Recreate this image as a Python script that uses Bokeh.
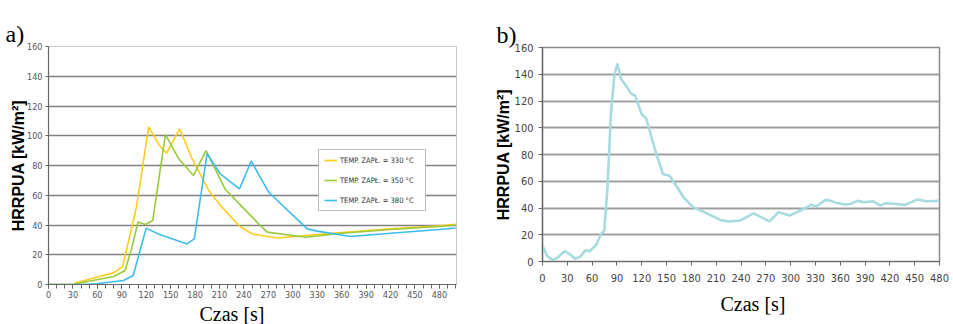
from bokeh.plotting import figure
from bokeh.layouts import row, column
from bokeh.models import Legend, LegendItem, Title, SingleIntervalTicker, Range1d
from bokeh.embed import file_html
from bokeh.resources import INLINE

# ---- data: chart a) ----
t_330 = [0, 30, 35, 60, 80, 91, 108, 123, 137, 145, 161, 176, 197, 213, 234, 250, 281, 330, 360, 420, 480, 500]
v_330 = [0, 0, 1.3, 5, 7.8, 12, 52, 106, 92.8, 88.3, 104.7, 85, 63, 52, 39.5, 34, 31.3, 33.5, 35, 37.5, 39.5, 40.5]
t_350 = [0, 30, 43, 80, 94, 102.5, 110, 119, 128, 143.5, 160, 178, 193.5, 217, 240, 260, 268.5, 316, 360, 420, 480, 500]
v_350 = [0, 0, 1.5, 5.4, 9.4, 25, 42, 40.3, 43, 100.8, 84.5, 73.3, 90, 64, 51, 39.7, 35.2, 31.8, 34.5, 37, 39, 40]
t_380 = [0, 40, 59.5, 92, 104, 120, 135, 170, 179, 194.7, 211, 234.5, 249, 260, 270.5, 317.7, 330, 371, 420, 480, 500]
v_380 = [0, 0, 0.5, 2.7, 6, 37.9, 34, 27.3, 30.7, 87.9, 74.4, 64.3, 83, 72, 62, 37.4, 35.9, 32.3, 34.5, 37, 38]
labels_a = ["TEMP. ZAPŁ. = 330 °C", "TEMP. ZAPŁ. = 350 °C", "TEMP. ZAPŁ. = 380 °C"]

# ---- data: chart b) ----
t_b = [0.5, 5.3, 11.4, 16.6, 26.6, 32.6, 39.5, 45.6, 52.5, 56.5, 65, 71, 74.6, 78.6, 82.7, 87, 90.7,
       95, 101, 106.9, 112, 120, 125.4, 136.3, 145.6, 153.6, 159, 170.5, 182.5, 198.7, 214.8, 224.9,
       239, 255, 274.4, 285.3, 298.6, 307.5, 317.6, 324.8, 330.9, 341.8, 347.8, 355.9, 366, 372,
       382, 388, 400, 408.5, 414.5, 428.6, 438.6, 452.7, 464.8, 480]
v_b = [11.2, 4.5, 1.3, 2, 7.7, 5.7, 2, 3.7, 8.7, 7.5, 12.5, 20.7, 22.6, 55.5, 110, 140, 148,
       136.5, 131.5, 125.7, 124, 110, 107, 83, 65.5, 64.2, 59.2, 48, 40.5, 36, 31.1, 29.9,
       30.6, 36, 30, 36.8, 34.4, 36.8, 39.8, 42.6, 41, 46, 45.5, 43.8, 42.6, 43,
       45.5, 44.3, 45, 41.8, 43.5, 43, 42.3, 46.3, 45, 45.3]

NARROW = "'Liberation Sans Narrow', 'DejaVu Sans Condensed', 'Liberation Sans', sans-serif"


def style(p, tick_size, tick_color, grid_color, grid_w):
    p.xgrid.grid_line_color = None
    p.ygrid.grid_line_color = grid_color
    p.ygrid.grid_line_width = grid_w
    for ax in (p.xaxis[0], p.yaxis[0]):
        ax.major_label_text_font = NARROW
        ax.major_label_text_font_size = tick_size
        ax.major_label_text_color = tick_color
        ax.axis_line_color = "#666666"
        ax.axis_line_width = 1.2
        ax.major_tick_line_color = "#666666"
        ax.minor_tick_line_color = "#666666"
        ax.major_tick_in = 0
        ax.minor_tick_in = 0
    p.yaxis.axis_label = "HRRPUA [kW/m²]"
    p.yaxis.axis_label_text_font = "Liberation Sans"
    p.yaxis.axis_label_text_font_style = "bold"
    p.yaxis.axis_label_text_font_size = "16px"
    p.yaxis.axis_label_text_color = "black"


def add_titles(p, panel_text, panel_offset, x_offset, x_standoff):
    p.title.text = panel_text
    p.title.align = "left"
    p.title.offset = panel_offset
    p.title.standoff = 0
    p.title.text_font = "Liberation Serif"
    p.title.text_font_style = "normal"
    p.title.text_font_size = "24px"
    p.title.text_color = "black"
    xt = Title(text="Czas [s]")
    xt.align = "left"
    xt.offset = x_offset
    xt.standoff = x_standoff
    xt.text_font = "Liberation Serif"
    xt.text_font_style = "normal"
    xt.text_font_size = "20px"
    xt.text_color = "black"
    p.add_layout(xt, "below")


# ---------------- chart a ----------------
pa = figure(width=476, height=324, output_backend="svg", toolbar_location=None,
            x_range=Range1d(0, 501), y_range=Range1d(0, 160),
            min_border_left=48, min_border_right=20, min_border_top=46, min_border_bottom=40)
style(pa, "9px", "#555555", "#808080", 1.5)
pa.outline_line_color = "#c8c8c8"
pa.outline_line_width = 1
pa.xaxis.ticker = SingleIntervalTicker(interval=30, num_minor_ticks=3)
pa.yaxis.ticker = SingleIntervalTicker(interval=20, num_minor_ticks=0)
pa.yaxis.minor_tick_line_color = None
pa.xaxis.major_tick_out = 4
pa.xaxis.minor_tick_out = 4
pa.yaxis.major_tick_out = 3
pa.xaxis.major_label_standoff = 2
pa.yaxis.major_label_standoff = 3
pa.yaxis.axis_label_standoff = -3
add_titles(pa, "a)", -43, 151, 0)

r1 = pa.line(t_330, v_330, line_color="#ffcc1a", line_width=1.6)
r2 = pa.line(t_350, v_350, line_color="#99c93c", line_width=1.6)
r3 = pa.line(t_380, v_380, line_color="#3cbcee", line_width=1.6)

leg = Legend(items=[LegendItem(label=labels_a[0], renderers=[r1]),
                    LegendItem(label=labels_a[1], renderers=[r2]),
                    LegendItem(label=labels_a[2], renderers=[r3])],
             location=(270, 73))
leg.label_text_font = NARROW
leg.label_text_font_size = "7.5px"
leg.label_text_color = "#333333"
leg.glyph_width = 13
leg.glyph_height = 10
leg.label_height = 10
leg.label_width = 80
leg.label_standoff = 3
leg.spacing = 10
leg.padding = 5
leg.margin = 0
leg.border_line_color = "#777777"
leg.border_line_width = 1.5
leg.background_fill_color = "white"
leg.background_fill_alpha = 1
pa.add_layout(leg)

# ---------------- chart b ----------------
pb = figure(width=477, height=324, output_backend="svg", toolbar_location=None,
            x_range=Range1d(0, 480), y_range=Range1d(0, 160),
            min_border_left=66, min_border_right=14, min_border_top=47, min_border_bottom=63)
style(pb, "11px", "#444444", "#a0a0a0", 2)
pb.outline_line_color = "#888888"
pb.outline_line_width = 1.5
pb.xaxis.ticker = SingleIntervalTicker(interval=30, num_minor_ticks=0)
pb.yaxis.ticker = SingleIntervalTicker(interval=20, num_minor_ticks=0)
pb.xaxis.minor_tick_line_color = None
pb.yaxis.minor_tick_line_color = None
pb.xaxis.major_tick_out = 4
pb.yaxis.major_tick_out = 4
pb.xaxis.major_label_standoff = 8
pb.yaxis.major_label_standoff = 5
pb.yaxis.axis_label_standoff = 0
add_titles(pb, "b)", -46, 178, 12)

pb.line(t_b, v_b, line_color="#a6dbdf", line_width=2.6)

layout = row(column(pa), column(pb))
open("out.html", "w").write(file_html(layout, INLINE))
